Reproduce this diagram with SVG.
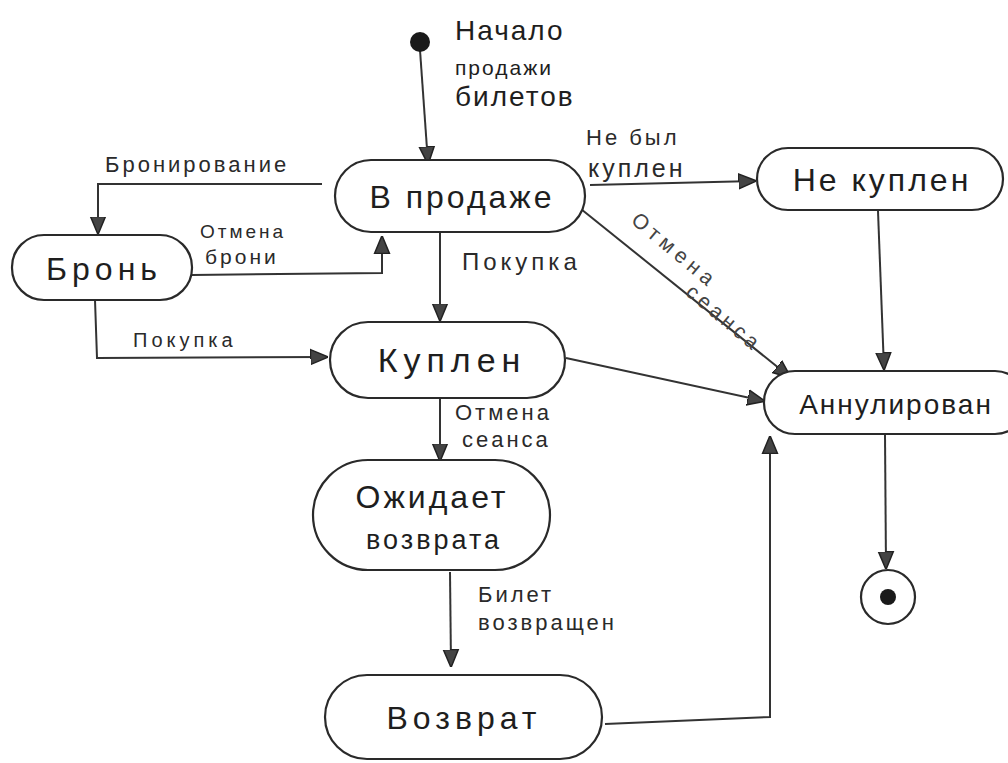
<svg xmlns="http://www.w3.org/2000/svg" width="1008" height="763" viewBox="0 0 1008 763">
<style>
.node{fill:#fff;stroke:#2a2a2a;stroke-width:2.2}
.nt{font-family:"Liberation Sans",Arial,sans-serif;font-size:32px;fill:#1e1e1e;text-anchor:middle;letter-spacing:3px}
.lb{font-family:"Liberation Sans",Arial,sans-serif;font-size:21px;fill:#2a2a2a;letter-spacing:3px}
.big{font-family:"Liberation Sans",Arial,sans-serif;font-size:28px;fill:#1e1e1e;letter-spacing:2px}
.ed{fill:none;stroke:#333;stroke-width:2}
</style>
<defs>
<marker id="ahb" viewBox="0 0 12 12" refX="11" refY="6" markerWidth="18" markerHeight="18" markerUnits="userSpaceOnUse" orient="auto">
<path d="M0,1 L12,6 L0,11 Z" fill="#444" stroke="#222" stroke-width="1"/>
</marker>
</defs>
<rect width="1008" height="763" fill="#fff"/>
<g id="connectors">
<path class="ed" d="M420,50 L428,163" marker-end="url(#ahb)"/>
<path class="ed" d="M590,185 L755,181" marker-end="url(#ahb)"/>
<path class="ed" d="M322,184 L98,184 L98,233" marker-end="url(#ahb)"/>
<path class="ed" d="M192,275 L382,273 L382,237" marker-end="url(#ahb)"/>
<path class="ed" d="M440,233 L440,320" marker-end="url(#ahb)"/>
<path class="ed" d="M95,300 L97,358 L327,357" marker-end="url(#ahb)"/>
<path class="ed" d="M576,205 L790,377" marker-end="url(#ahb)"/>
<path class="ed" d="M566,358 L764,401" marker-end="url(#ahb)"/>
<path class="ed" d="M878,211 L884,369" marker-end="url(#ahb)"/>
<path class="ed" d="M885,435 L886,568" marker-end="url(#ahb)"/>
<path class="ed" d="M440,399 L440,460" marker-end="url(#ahb)"/>
<path class="ed" d="M450,572 L451,666" marker-end="url(#ahb)"/>
<path class="ed" d="M605,724 L770,717 L770,437" marker-end="url(#ahb)"/>
</g>
<g id="start">
<circle cx="420" cy="42" r="10" fill="#1a1a1a"/>
<text class="big" x="455" y="40">Начало</text>
<text class="big" x="455" y="75" style="font-size:21px">продажи</text>
<text class="big" x="455" y="106">билетов</text>
</g>
<g id="labels">
<text class="lb" x="586" y="145" style="font-size:22px">Не был</text>
<text class="lb" x="588" y="177" style="font-size:25px">куплен</text>
<text class="lb" x="105" y="172" style="font-size:22px">Бронирование</text>
<text class="lb" x="200" y="238" style="font-size:19px">Отмена</text>
<text class="lb" x="205" y="264">брони</text>
<text class="lb" x="462" y="270" style="font-size:24px;letter-spacing:4px">Покупка</text>
<text class="lb" x="133" y="347" style="font-size:20px;letter-spacing:4px">Покупка</text>
<text class="lb" x="455" y="420" style="font-size:22px">Отмена</text>
<text class="lb" x="462" y="447" style="font-size:22px">сеанса</text>
<text class="lb" x="478" y="602" style="font-size:22px">Билет</text>
<text class="lb" x="478" y="630" style="font-size:22px">возвращен</text>
<g transform="translate(630,222) rotate(40)">
<text class="lb" x="0" y="0" style="font-size:21px;letter-spacing:5px;fill:#444">Отмена</text>
<text class="lb" x="88" y="20" style="font-size:21px;letter-spacing:4px;fill:#444">сеанса</text>
</g>
</g>
<g id="v-prodazhe">
<rect class="node" x="335" y="160" width="250" height="72" rx="36"/>
<text class="nt" x="462" y="208">В продаже</text>
</g>
<g id="ne-kuplen">
<rect class="node" x="757" y="148" width="246" height="62" rx="31"/>
<text class="nt" x="882" y="191">Не куплен</text>
</g>
<g id="bron">
<rect class="node" x="12" y="235" width="180" height="65" rx="32"/>
<text class="nt" x="104" y="280" style="letter-spacing:5px">Бронь</text>
</g>
<g id="kuplen">
<rect class="node" x="330" y="322" width="235" height="76" rx="38"/>
<text class="nt" x="452" y="372" style="font-size:34px;letter-spacing:6px">Куплен</text>
</g>
<g id="annulirovan">
<rect class="node" x="764" y="371" width="262" height="63" rx="31"/>
<text class="nt" x="896" y="414" style="font-size:28px;letter-spacing:2px">Аннулирован</text>
</g>
<g id="ozhidaet">
<rect class="node" x="313" y="460" width="237" height="110" rx="55"/>
<text class="nt" x="432" y="508">Ожидает</text>
<text class="nt" x="434" y="549" style="font-size:27px">возврата</text>
</g>
<g id="vozvrat">
<rect class="node" x="325" y="675" width="277" height="84" rx="42"/>
<text class="nt" x="464" y="729" style="letter-spacing:5px">Возврат</text>
</g>
<g id="end">
<circle cx="888" cy="597" r="27" fill="#fff" stroke="#2a2a2a" stroke-width="2.2"/>
<circle cx="888" cy="597" r="8" fill="#1a1a1a"/>
</g>
</svg>
